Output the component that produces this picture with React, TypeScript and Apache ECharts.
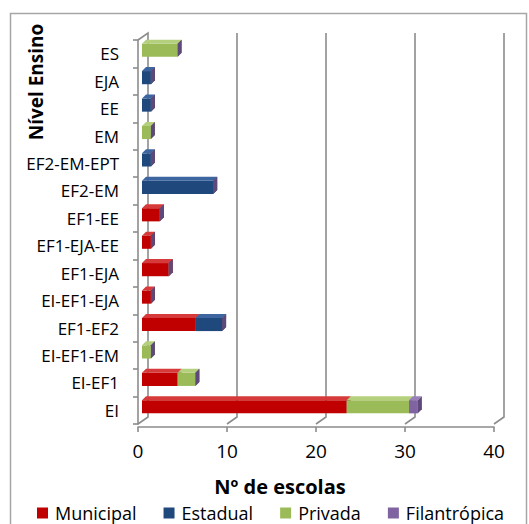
import React, { useEffect, useRef } from "react";
import * as echarts from "echarts";

const categories = ["EI", "EI-EF1", "EI-EF1-EM", "EF1-EF2", "EI-EF1-EJA", "EF1-EJA", "EF1-EJA-EE", "EF1-EE", "EF2-EM", "EF2-EM-EPT", "EM", "EE", "EJA", "ES"];
const municipal = [23, 4, 0, 6, 1, 3, 1, 2, 0, 0, 0, 0, 0, 0];
const estadual = [0, 0, 0, 3, 0, 0, 0, 0, 8, 1, 0, 1, 1, 0];
const privada = [7, 2, 1, 0, 0, 0, 0, 0, 0, 0, 1, 0, 0, 4];
const filantropica = [1, 0, 0, 0, 0, 0, 0, 0, 0, 0, 0, 0, 0, 0];
const xTicks = [0, 10, 20, 30, 40];

const seriesDefs = [
  { name: "Municipal", values: municipal, front: "#C00000", top: "#d63a3a", side: "#8c0000" },
  { name: "Estadual", values: estadual, front: "#1F497D", top: "#3d66a0", side: "#15345a" },
  { name: "Privada", values: privada, front: "#9BBB59", top: "#b4d07c", side: "#76903f" },
  { name: "Filantrópica", values: filantropica, front: "#8064A2", top: "#9a80bb", side: "#5f497a" },
];

const FONT = "'Open Sans', 'Noto Sans', sans-serif";

export default function App() {
  const ref = useRef<HTMLDivElement>(null);
  useEffect(() => {
    if (!ref.current) return;
    const chart = echarts.init(ref.current, null, { renderer: "svg" });
    const ox = 4, oy = -3.5, d = 4;
    const bars = seriesDefs.map((sd, si) => {
      const isLast = si === seriesDefs.length - 1;
      const data = categories.map((_, i) => {
        let start = 0;
        for (let k = 0; k < si; k++) start += seriesDefs[k].values[i];
        return [start, start + sd.values[i], i];
      });
      return {
        type: "custom",
        name: sd.name,
        itemStyle: { color: sd.front },
        encode: { x: [0, 1], y: 2 },
        z: 5 + si,
        data,
        renderItem: (params: any, api: any) => {
          const s = api.value(0), e = api.value(1), ci = api.value(2);
          if (e === s && !isLast) return { type: "group", children: [] };
          const a = api.coord([s, ci]);
          const b = api.coord([e, ci]);
          const bandH = api.size([0, 1])[1];
          const h = bandH * 0.48;
          const x0 = a[0] + ox, x1 = b[0] + ox;
          const yc = a[1] + oy, yt = yc - h / 2, yb = yc + h / 2;
          const children: any[] = [];
          if (x1 > x0) {
            children.push({ type: "rect", shape: { x: x0, y: yt, width: x1 - x0, height: h }, style: { fill: sd.front } });
            children.push({ type: "polygon", shape: { points: [[x0, yt], [x1, yt], [x1 + d, yt - d], [x0 + d, yt - d]] }, style: { fill: sd.top } });
          }
          children.push({ type: "polygon", shape: { points: [[x1, yt], [x1 + d, yt - d], [x1 + d, yb - d], [x1, yb]] }, style: { fill: isLast ? "#5f497a" : sd.side } });
          return { type: "group", children };
        },
      };
    });
    const grid = {
      type: "custom",
      name: "grid",
      silent: true,
      z: 1,
      encode: { x: 0, y: 1 },
      data: xTicks.map((v) => [v, 0]),
      renderItem: (params: any, api: any) => {
        const v = api.value(0);
        const p = api.coord([v, 0]);
        const cs = params.coordSys;
        const x = p[0];
        const top = cs.y, bottom = cs.y + cs.height;
        const pts = v === 0
          ? [[x, bottom], [x + 10, bottom - 7], [x + 10, top - 7], [x, top]]
          : [[x, bottom], [x + 10, bottom - 7], [x + 10, top - 7]];
        return { type: "polyline", shape: { points: pts }, style: { stroke: "#8c8c8c", lineWidth: 1.6, fill: "none" } };
      },
    };
    chart.setOption({
      animation: false,
      backgroundColor: "#ffffff",
      textStyle: { fontFamily: FONT },
      grid: { left: 138, right: 35, top: 40, bottom: 100, outerBoundsMode: "none" },
      xAxis: {
        type: "value",
        min: 0,
        max: 40,
        interval: 10,
        offset: 3,
        splitLine: { show: false },
        axisLine: { show: true, lineStyle: { color: "#8c8c8c", width: 1.6 } },
        axisTick: { show: true, length: 5, lineStyle: { color: "#8c8c8c", width: 1.6 } },
        axisLabel: { fontFamily: FONT, fontSize: 19, color: "#000", margin: 14 },
      },
      yAxis: {
        type: "category",
        data: categories,
        axisLine: { show: true, lineStyle: { color: "#8c8c8c", width: 1.6 } },
        axisTick: { show: true, length: 5, lineStyle: { color: "#8c8c8c", width: 1.6 } },
        axisLabel: { fontFamily: FONT, fontSize: 17, color: "#000", margin: 19 },
        splitLine: { show: false },
      },
      legend: {
        data: seriesDefs.map((s) => s.name),
        left: 37,
        top: 503,
        padding: 0,
        icon: "rect",
        itemWidth: 11,
        itemHeight: 11,
        itemGap: 27,
        textStyle: { fontFamily: FONT, fontSize: 18, color: "#000", padding: [0, 0, 0, 2], lineHeight: 20 },
      },
      graphic: [
        { type: "rect", shape: { x: 10.5, y: 13.5, width: 516, height: 520 }, style: { fill: "none", stroke: "#a6a6a6", lineWidth: 1.5 }, z: -1 },
        { type: "text", x: 280, y: 486, style: { text: "Nº de escolas", fontFamily: FONT, fontSize: 20, fontWeight: "bold", fill: "#000", align: "center", verticalAlign: "middle" } },
        { type: "text", x: 36, y: 82, rotation: Math.PI / 2, style: { text: "Nível Ensino", fontFamily: FONT, fontSize: 19, fontWeight: "bold", fill: "#000", align: "center", verticalAlign: "middle" } },
      ],
      series: [grid, ...bars],
    });
    return () => chart.dispose();
  }, []);
  return <div ref={ref} style={{ position: "fixed", left: 0, top: 0, width: 529, height: 524 }} />;
}
